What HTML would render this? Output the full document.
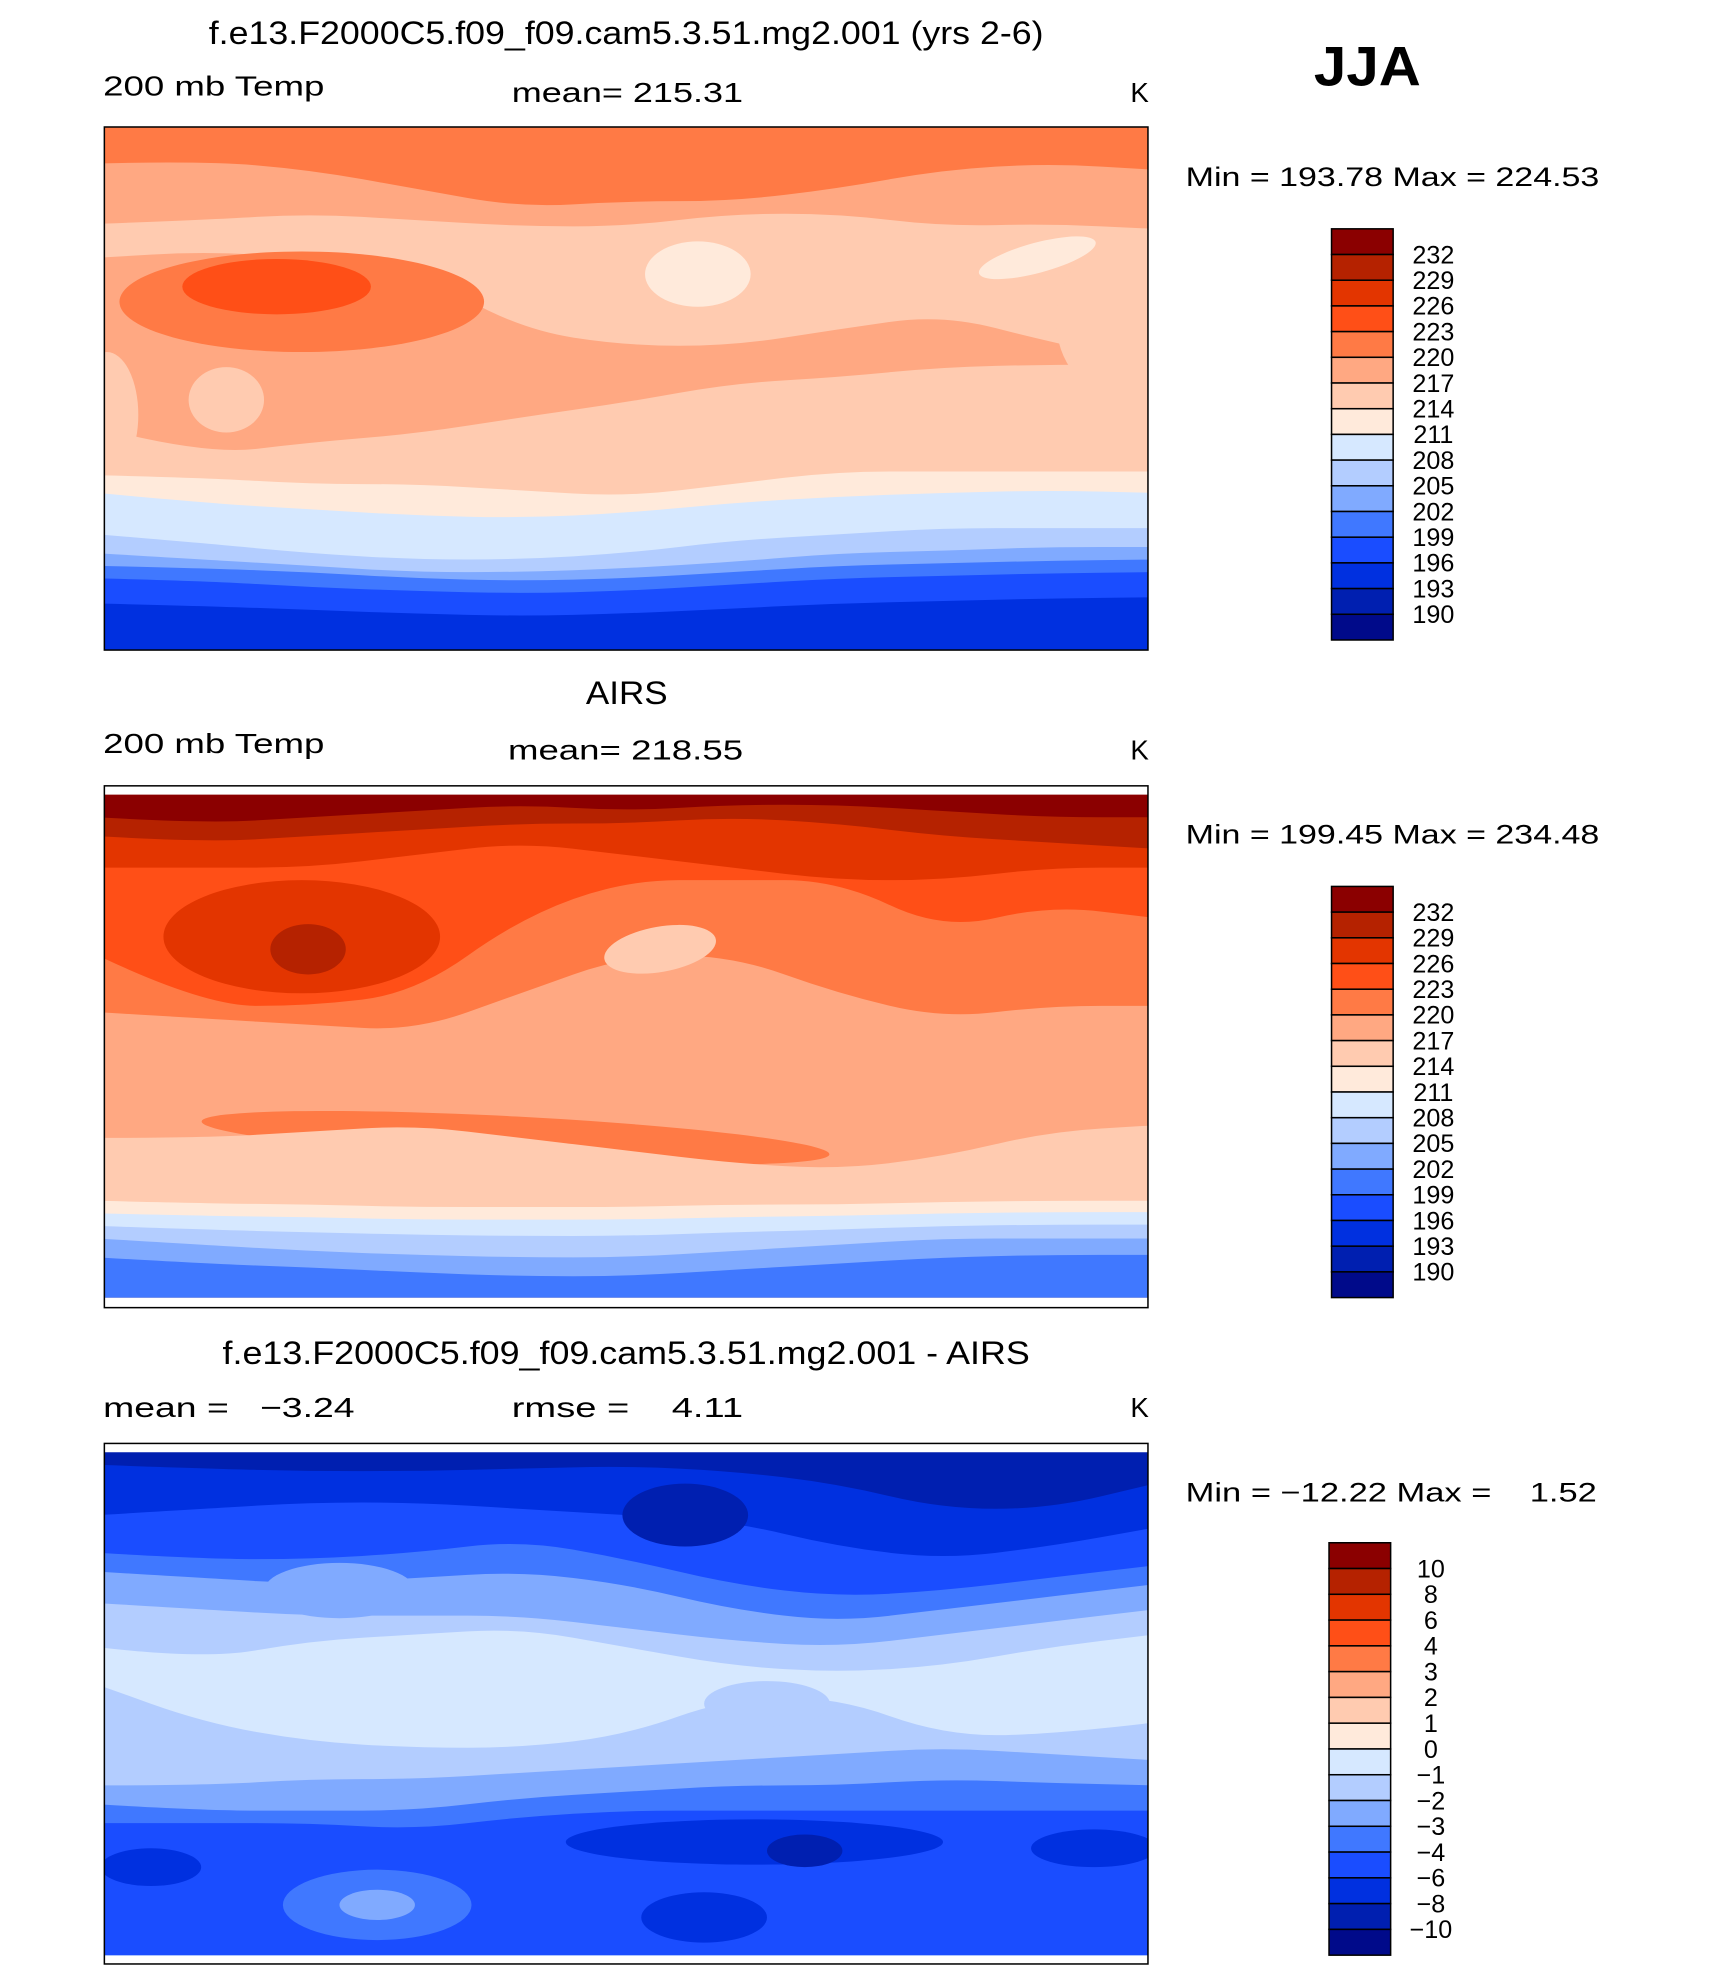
<!DOCTYPE html>
<html><head><meta charset="utf-8"><style>
html,body{margin:0;padding:0;background:#fff;}
svg{display:block;}
text{font-family:"Liberation Sans",sans-serif;fill:#000;}
</style></head><body>
<svg id="fig" width="1710" height="1969" viewBox="0 0 1360 1566" preserveAspectRatio="none" xmlns="http://www.w3.org/2000/svg">
<defs>
<clipPath id="c1"><rect x="83" y="101" width="830" height="416"/></clipPath>
<clipPath id="c2"><rect x="83" y="632" width="830" height="400"/></clipPath>
<clipPath id="c3"><rect x="83" y="1155" width="830" height="400"/></clipPath>
</defs>
<text x="166" y="35" font-size="26" textLength="664" lengthAdjust="spacingAndGlyphs">f.e13.F2000C5.f09_f09.cam5.3.51.mg2.001 (yrs 2-6)</text>
<text x="1045" y="68" font-size="44" font-weight="bold" textLength="85" lengthAdjust="spacingAndGlyphs">JJA</text>
<text x="82" y="76" font-size="22" textLength="176" lengthAdjust="spacingAndGlyphs">200 mb Temp</text>
<text x="407" y="81" font-size="22" textLength="184" lengthAdjust="spacingAndGlyphs">mean= 215.31</text>
<text x="899" y="81" font-size="22">K</text>
<text x="943" y="148" font-size="21" textLength="329" lengthAdjust="spacingAndGlyphs">Min = 193.78 Max = 224.53</text>

<text x="466" y="560" font-size="26" textLength="65" lengthAdjust="spacingAndGlyphs">AIRS</text>
<text x="82" y="599" font-size="22" textLength="176" lengthAdjust="spacingAndGlyphs">200 mb Temp</text>
<text x="404" y="604" font-size="22" textLength="187" lengthAdjust="spacingAndGlyphs">mean= 218.55</text>
<text x="899" y="604" font-size="22">K</text>
<text x="943" y="671" font-size="21" textLength="329" lengthAdjust="spacingAndGlyphs">Min = 199.45 Max = 234.48</text>

<text x="177" y="1085" font-size="26" textLength="642" lengthAdjust="spacingAndGlyphs">f.e13.F2000C5.f09_f09.cam5.3.51.mg2.001 - AIRS</text>
<text x="82" y="1127" font-size="22" textLength="200" lengthAdjust="spacingAndGlyphs" xml:space="preserve">mean =   −3.24</text>
<text x="407" y="1127" font-size="22" textLength="184" lengthAdjust="spacingAndGlyphs" xml:space="preserve">rmse =    4.11</text>
<text x="899" y="1127" font-size="22">K</text>
<text x="943" y="1194" font-size="21" textLength="327" lengthAdjust="spacingAndGlyphs" xml:space="preserve">Min = −12.22 Max =    1.52</text>

<g id="map1" clip-path="url(#c1)"></g>
<g id="map2" clip-path="url(#c2)"></g>
<g id="map3" clip-path="url(#c3)"></g>
<rect x="83" y="101" width="830" height="416" fill="none" stroke="#000" stroke-width="1.2"/>
<rect x="83" y="625" width="830" height="415" fill="none" stroke="#000" stroke-width="1.2"/>
<rect x="83" y="1148" width="830" height="414" fill="none" stroke="#000" stroke-width="1.2"/>
<g id="bars"></g>
</svg>
<script>
const colors = ["#8b0000","#b52200","#e33500","#ff4f17","#ff7a45","#ffa882","#ffcbb0","#ffeadb","#d6e8ff","#b3cdff","#80aaff","#4078ff","#1a4dff","#0030e0","#001fb0","#000a8a"];
const tempLevels = [232,229,226,223,220,217,214,211,208,205,202,199,196,193,190];
const diffLevels = ["10","8","6","4","3","2","1","0","−1","−2","−3","−4","−6","−8","−10"];
const NS = "http://www.w3.org/2000/svg";
const X0 = 83, W = 830;
function xs(i, n){ return X0 - 5 + i * (W + 10) / (n - 1); }
function curve(ys, rev){
  const pts = ys.map((y,i)=>[xs(i,ys.length), y]);
  if (rev) pts.reverse();
  let d = (rev ? "L" : "M") + pts[0][0] + " " + pts[0][1];
  for (let i = 1; i < pts.length - 1; i++) {
    const mx = (pts[i][0] + pts[i+1][0]) / 2, my = (pts[i][1] + pts[i+1][1]) / 2;
    d += " Q" + pts[i][0] + " " + pts[i][1] + " " + mx + " " + my;
  }
  const l = pts[pts.length-1];
  d += " L" + l[0] + " " + l[1];
  return d;
}
function band(g, ci, top, bot, name){
  const p = document.createElementNS(NS, "path");
  p.setAttribute("d", curve(top,false) + " " + curve(bot,true) + " Z");
  p.setAttribute("fill", colors[ci]);
  
  
  g.appendChild(p);
}
function flat(y){ return Array(11).fill(y); }
function blob(g, ci, cx, cy, rx, ry, rot, name){
  const e = document.createElementNS(NS, "ellipse");
  e.setAttribute("cx", cx); e.setAttribute("cy", cy); e.setAttribute("rx", rx); e.setAttribute("ry", ry);
  if (rot) e.setAttribute("transform", "rotate(" + rot + " " + cx + " " + cy + ")");
  e.setAttribute("fill", colors[ci]);
  
  
  g.appendChild(e);
}
function layers(g, ci0, top, list, bottom){
  band(g, ci0, flat(top), flat(bottom), "contour-band");
  list.forEach(([ci, b]) => band(g, ci, b, flat(bottom), "contour-band"));
}
// Map 1
const g1 = document.getElementById("map1");
layers(g1, 4, 100, [
  [5, [130,128,135,150,165,160,160,150,135,130,135]],
], 518);
band(g1, 6, [178,175,170,175,180,180,170,170,180,178,182], [205,200,205,215,262,275,275,262,250,272,290], "contour-band");
blob(g1, 7, 555, 218, 42, 26, 0, "contour-blob");
blob(g1, 7, 825, 205, 48, 12, -15, "contour-blob");
blob(g1, 4, 240, 240, 145, 40, 0, "contour-blob");
blob(g1, 3, 220, 228, 75, 22, 0, "contour-blob");
blob(g1, 6, 180, 318, 30, 26, 0, "contour-blob");
blob(g1, 6, 890, 255, 50, 60, 0, "contour-blob");
blob(g1, 6, 85, 330, 25, 50, 0, "contour-blob");
[[6, [340,362,352,345,332,320,305,300,292,290,290]],
 [7, [378,380,385,385,390,395,385,375,375,375,375]],
 [8, [392,400,405,410,412,408,400,395,392,390,392]],
 [9, [425,432,440,445,445,440,430,425,420,420,420]],
 [10,[440,445,450,455,455,452,447,440,438,435,435]],
 [11,[450,452,455,460,462,460,455,450,448,446,445]],
 [12,[460,462,467,470,472,470,465,460,458,456,455]],
 [13,[480,482,485,488,490,488,484,480,478,476,475]]
].forEach(([c,b]) => band(g1, c, b, flat(518), "contour-band"));
// Map 2
const g2 = document.getElementById("map2");
layers(g2, 0, 630, [
  [1, [650,655,650,645,640,645,640,640,645,650,650]],
  [2, [665,670,665,660,655,655,650,655,665,670,675]],
  [3, [690,690,690,680,670,680,690,700,700,690,690]],
  [4, [760,800,800,790,730,700,700,700,740,720,730]],
  [5, [805,810,815,820,790,760,760,790,810,800,800]]
], 1033);
blob(g2, 2, 240, 745, 110, 45, 0, "contour-blob");
blob(g2, 1, 245, 755, 30, 20, 0, "contour-blob");
blob(g2, 6, 525, 755, 45, 18, -10, "contour-blob");
blob(g2, 4, 410, 905, 250, 17, 3, "contour-blob");
[[6,[905,905,900,895,905,915,925,930,920,900,895]],
 [7,[955,957,958,960,960,960,958,958,956,955,955]],
 [8,[965,967,968,970,970,970,968,967,965,964,964]],
 [9,[975,978,980,982,983,983,980,978,975,974,974]],
 [10,[985,990,995,998,1000,1000,995,990,985,985,985]],
 [11,[1000,1005,1008,1012,1015,1015,1010,1005,1000,998,998]]
].forEach(([c,b]) => band(g2, c, b, flat(1033), "contour-band"));
// Map 3
const g3 = document.getElementById("map3");
layers(g3, 14, 1153, [
  [13, [1165,1168,1170,1170,1168,1166,1170,1180,1200,1200,1180]],
  [12, [1205,1200,1195,1195,1200,1205,1210,1230,1240,1230,1215]],
  [11, [1235,1240,1240,1235,1225,1240,1260,1270,1265,1255,1245]],
  [10, [1250,1255,1260,1255,1250,1260,1280,1290,1280,1270,1260]],
  [9,  [1275,1280,1285,1285,1285,1295,1305,1310,1300,1290,1280]]
], 1556);
blob(g3, 14, 545, 1205, 50, 25, 0, "contour-blob");
blob(g3, 10, 270, 1265, 60, 22, 0, "contour-blob");
band(g3, 8, [1310,1320,1305,1300,1295,1310,1325,1330,1325,1310,1300], [1340,1370,1385,1390,1390,1380,1350,1350,1380,1380,1370], "contour-band");
blob(g3, 9, 610, 1355, 50, 18, 0, "contour-blob");
[[10,[1420,1420,1415,1415,1410,1405,1400,1395,1390,1395,1400]],
 [11,[1435,1440,1440,1440,1430,1425,1420,1420,1415,1418,1420]],
 [12,[1450,1450,1450,1455,1445,1440,1440,1440,1440,1440,1440]]
].forEach(([c,b]) => band(g3, c, b, flat(1556), "contour-band"));
blob(g3, 13, 120, 1485, 40, 15, 0, "contour-blob");
blob(g3, 13, 600, 1465, 150, 18, 0, "contour-blob");
blob(g3, 14, 640, 1472, 30, 13, 0, "contour-blob");
blob(g3, 13, 870, 1470, 50, 15, 0, "contour-blob");
blob(g3, 13, 560, 1525, 50, 20, 0, "contour-blob");
blob(g3, 11, 300, 1515, 75, 28, 0, "contour-blob");
blob(g3, 10, 300, 1515, 30, 12, 0, "contour-blob");
// Colorbars
const bars = document.getElementById("bars");
function colorbar(x, y0, h, labels, name, lx){
  const n = colors.length, bh = h / n;
  const g = document.createElementNS(NS, "g");
  
  
  colors.forEach((c, i) => {
    const r = document.createElementNS(NS, "rect");
    r.setAttribute("x", x); r.setAttribute("y", y0 + i * bh);
    r.setAttribute("width", 49); r.setAttribute("height", bh);
    r.setAttribute("fill", c); r.setAttribute("stroke", "#000"); r.setAttribute("stroke-width", "1.2");
    
    
    g.appendChild(r);
  });
  labels.forEach((l, i) => {
    const t = document.createElementNS(NS, "text");
    t.setAttribute("x", lx); t.setAttribute("y", y0 + (i + 1) * bh + 7);
    t.setAttribute("font-size", "20"); t.setAttribute("text-anchor", "middle");
    t.textContent = l;
    
    
    g.appendChild(t);
  });
  bars.appendChild(g);
}
colorbar(1059, 182, 327, tempLevels.map(String), "model-colorbar", 1140);
colorbar(1059, 705, 327, tempLevels.map(String), "airs-colorbar", 1140);
colorbar(1057, 1227, 328, diffLevels, "difference-colorbar", 1138);
</script>
</body></html>
